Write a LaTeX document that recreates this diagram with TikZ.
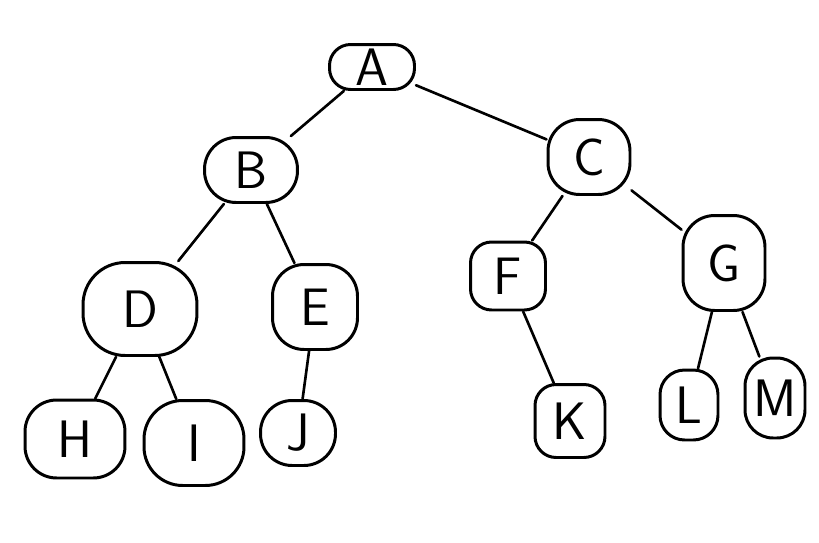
\documentclass[tikz,border=0pt]{standalone}
\usepackage{tikz}
\usetikzlibrary{positioning}

\tikzset{
  treenode/.style={draw,line width=1.7pt,rounded corners=18pt,inner sep=0pt,
    font=\sffamily\fontsize{30}{30}\selectfont},
  treeedge/.style={line width=1.5pt,line cap=round}
}

\begin{document}
\begin{tikzpicture}[x=0.02cm,y=-0.02cm]
    \useasboundingbox (0,0) rectangle (819,542);
    % nodes, level by level
    \node[treenode,minimum width=1.7cm,minimum height=0.9cm,rounded corners=12pt] (A) at (372,67) {A};
    \node[treenode,minimum width=1.86cm,minimum height=1.3cm] (B) at (251,170) {B};
    \node[treenode,minimum width=1.64cm,minimum height=1.5cm] (C) at (589,157) {C};
    \node[treenode,minimum width=2.28cm,minimum height=1.86cm,rounded corners=24pt] (D) at (140,309) {D};
    \node[treenode,minimum width=1.7cm,minimum height=1.7cm] (E) at (315,307) {E};
    \node[treenode,minimum width=1.5cm,minimum height=1.36cm,rounded corners=12pt] (F) at (508,276) {F};
    \node[treenode,minimum width=1.64cm,minimum height=1.9cm] (G) at (724,263) {G};
    \node[treenode,minimum width=2.0cm,minimum height=1.56cm] (H) at (75,439) {H};
    \node[treenode,minimum width=2.0cm,minimum height=1.7cm,rounded corners=22pt] (I) at (194,443) {I};
    \node[treenode,minimum width=1.5cm,minimum height=1.3cm] (J) at (298,433) {J};
    \node[treenode,minimum width=1.4cm,minimum height=1.46cm,rounded corners=12pt] (K) at (570,421) {K};
    \node[treenode,minimum width=1.16cm,minimum height=1.4cm,rounded corners=14pt] (L) at (689,405) {L};
    \node[treenode,minimum width=1.2cm,minimum height=1.6cm,rounded corners=16pt] (M) at (775,398) {M};
    % connectors
    \draw[treeedge] (A) -- (B);
    \draw[treeedge] (A) -- (C);
    \draw[treeedge] (B) -- (D);
    \draw[treeedge] (B) -- (E);
    \draw[treeedge] (C) -- (F);
    \draw[treeedge] (C) -- (G);
    \draw[treeedge] (D) -- (H);
    \draw[treeedge] (D) -- (I);
    \draw[treeedge] (E) -- (J);
    \draw[treeedge] (F) -- (K);
    \draw[treeedge] (G) -- (L);
    \draw[treeedge] (G) -- (M);
\end{tikzpicture}
\end{document}
